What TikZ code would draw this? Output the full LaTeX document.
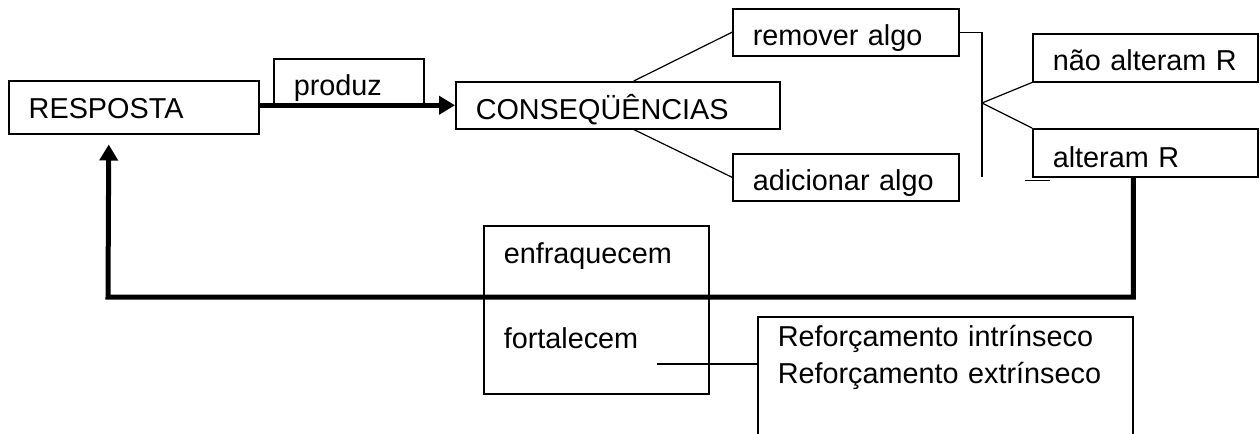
\documentclass[tikz,border=0pt]{standalone}
\usepackage{fontspec}
\setmainfont{Liberation Sans}
\usetikzlibrary{arrows.meta,positioning,calc}

\begin{document}
\begin{tikzpicture}[
    x=0.5pt, y=-0.5pt,
    font=\fontsize{14.4}{17.2}\selectfont,
    box/.style={draw, line width=0.75pt, anchor=north west, inner xsep=10pt, inner ysep=0pt, align=left},
    link/.style={line width=0.6pt},
    post/.style={line width=2.5pt, -{Triangle[length=8pt,width=9pt]}}
    ]
    \useasboundingbox (0,0) rectangle (1260,434);
    \clip (0,0) rectangle (1260,434);
    \node[box, text width=105pt, text height=19pt, text depth=7.5pt] (resp) at (8,80) {RESPOSTA};
    \node[box, text width=55pt, text height=18.5pt, text depth=4.5pt] (produz) at (273,58) {produz};
    \node[box, text width=142pt, text height=19pt, text depth=4.5pt] (conseq) at (455,81) {CONSEQÜÊNCIAS};
    \node[box, text width=93pt, text height=18.5pt, text depth=5pt] (remover) at (732,8) {remover algo};
    \node[box, text width=93pt, text height=18.5pt, text depth=5pt] (adicionar) at (732,153) {adicionar algo};
    \node[box, text width=92.5pt, text height=18.5pt, text depth=5.5pt] (nao) at (1032,33) {não alteram R};
    \node[box, text width=92.5pt, text height=19.5pt, text depth=4.5pt] (alteram) at (1032,128) {alteram R};
    \node[box, text width=92.5pt, text height=19pt, text depth=65pt] (efeito) at (483,225) {enfraquecem\\[25.3pt]fortalecem};
    \node[box, text width=167.5pt, text height=15pt, text depth=60pt] (ref) at (757,316) {Reforçamento intrínseco\\[1.3pt]Reforçamento extrínseco};
    \coordinate (fork) at (982,103);
    \coordinate (brk) at (982,177);
    \coordinate (loopL) at (108,297);
    \coordinate (fort) at (657,364);
    \path[link]
    ([xshift=8pt]conseq.north) edge (remover.west)
    ([xshift=8pt]conseq.south) edge (adicionar.west)
    (fork) edge (nao.south west)
    (fork) edge (alteram.north west)
    (fort) edge (fort -| ref.west)
    ;
    \draw[link] (remover.east) -| (brk);
    \draw[link] ([xshift=-3.5pt,yshift=-1.5pt]alteram.south west) -- ++(25,0);
    \draw[post] (resp.east |- conseq.west) -- (conseq.west);
    \draw[post] ([xshift=-6pt]alteram.south) |- (loopL) -- ([xshift=-12.5pt,yshift=-5pt]resp.south);
\end{tikzpicture}
\end{document}
